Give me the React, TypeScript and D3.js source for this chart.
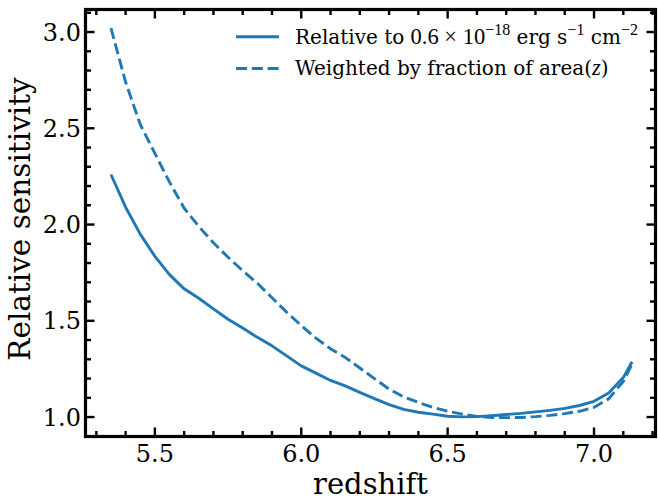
import React from "react";
import * as d3 from "d3";

const redshift = [5.35, 5.40, 5.45, 5.50, 5.55, 5.60, 5.65, 5.70, 5.75, 5.80, 5.85, 5.90, 5.95, 6.00, 6.05, 6.10, 6.15, 6.20, 6.25, 6.30, 6.35, 6.40, 6.45, 6.50, 6.55, 6.60, 6.65, 6.70, 6.75, 6.80, 6.85, 6.90, 6.95, 7.00, 7.05, 7.10, 7.13];
const relativeSens = [2.26, 2.09, 1.95, 1.835, 1.74, 1.666, 1.617, 1.562, 1.508, 1.462, 1.414, 1.37, 1.318, 1.266, 1.228, 1.19, 1.162, 1.128, 1.096, 1.065, 1.04, 1.025, 1.015, 1.004, 1.001, 1.002, 1.007, 1.013, 1.019, 1.027, 1.035, 1.045, 1.06, 1.082, 1.125, 1.205, 1.287];
const weightedSens = [3.02, 2.74, 2.52, 2.37, 2.22, 2.085, 1.99, 1.905, 1.83, 1.76, 1.695, 1.62, 1.545, 1.475, 1.41, 1.355, 1.31, 1.255, 1.2, 1.145, 1.105, 1.076, 1.05, 1.03, 1.015, 1.003, 0.998, 0.997, 0.998, 1.002, 1.009, 1.018, 1.03, 1.05, 1.095, 1.185, 1.275];
const xTicks = [5.5, 6.0, 6.5, 7.0];
const yTicks = [1.0, 1.5, 2.0, 2.5, 3.0];

const COLOR = "#1f77b4";
const SERIF = "'DejaVu Serif', serif";
const MATH = "'Liberation Serif', 'DejaVu Serif', serif";

export default function App() {
  const W = 658, H = 500;
  const L = 85.5, R = 655.5, T = 9.5, B = 436.5;
  const xDom: [number, number] = [5.263, 7.21];
  const yDom: [number, number] = [0.899, 3.117];
  const x = d3.scaleLinear().domain(xDom).range([L, R]);
  const y = d3.scaleLinear().domain(yDom).range([B, T]);

  const isMajor = (v: number) => Math.abs(v * 2 - Math.round(v * 2)) < 1e-6;
  const xMinor = d3.range(52, 73).map((v) => v / 10).filter((v) => v > xDom[0] && v < xDom[1] && !isMajor(v));
  const yMinor = d3.range(9, 32).map((v) => v / 10).filter((v) => v > yDom[0] && v < yDom[1] && !isMajor(v));

  const line = d3.line<number>().x((_, i) => x(redshift[i])).y((d) => y(d)).curve(d3.curveLinear);

  const majLen = 9, minLen = 5.5;
  const tickStroke = { stroke: "#000", strokeWidth: 2.4 };
  const LW = 2.9;
  const DASH = "11,4.8";

  return (
    <svg width={W} height={H} style={{ position: "absolute", left: 0, top: 0 }}>
      <rect x={0} y={0} width={W} height={H} fill="#fff" />
      <path d={line(relativeSens) || ""} fill="none" stroke={COLOR} strokeWidth={LW} strokeLinejoin="round" />
      <path d={line(weightedSens) || ""} fill="none" stroke={COLOR} strokeWidth={LW} strokeDasharray={DASH} />

      {xTicks.map((t) => (
        <g key={"xm" + t}>
          <line x1={x(t)} x2={x(t)} y1={B} y2={B - majLen} {...tickStroke} />
          <line x1={x(t)} x2={x(t)} y1={T} y2={T + majLen} {...tickStroke} />
          <text x={x(t)} y={462} textAnchor="middle" fontFamily={SERIF} fontSize={24}>{t.toFixed(1)}</text>
        </g>
      ))}
      {xMinor.map((t) => (
        <g key={"xn" + t}>
          <line x1={x(t)} x2={x(t)} y1={B} y2={B - minLen} {...tickStroke} />
          <line x1={x(t)} x2={x(t)} y1={T} y2={T + minLen} {...tickStroke} />
        </g>
      ))}
      {yTicks.map((t) => (
        <g key={"ym" + t}>
          <line x1={L} x2={L + majLen} y1={y(t)} y2={y(t)} {...tickStroke} />
          <line x1={R} x2={R - majLen} y1={y(t)} y2={y(t)} {...tickStroke} />
          <text x={81} y={y(t)} dy="0.36em" textAnchor="end" fontFamily={SERIF} fontSize={24}>{t.toFixed(1)}</text>
        </g>
      ))}
      {yMinor.map((t) => (
        <g key={"yn" + t}>
          <line x1={L} x2={L + minLen} y1={y(t)} y2={y(t)} {...tickStroke} />
          <line x1={R} x2={R - minLen} y1={y(t)} y2={y(t)} {...tickStroke} />
        </g>
      ))}

      <rect x={L} y={T} width={R - L} height={B - T} fill="none" stroke="#000" strokeWidth={3.2} />

      <text x={(L + R) / 2} y={494} textAnchor="middle" fontFamily={SERIF} fontSize={29}>redshift</text>
      <text transform={`translate(30,${(T + B) / 2 - 4}) rotate(-90)`} textAnchor="middle" fontFamily={SERIF} fontSize={29.5}>Relative sensitivity</text>

      <line x1={236} x2={279} y1={36.7} y2={36.7} stroke={COLOR} strokeWidth={LW} />
      <line x1={236} x2={279} y1={68.5} y2={68.5} stroke={COLOR} strokeWidth={LW} strokeDasharray={DASH} />
      <text x={295} y={43.5} fontFamily={SERIF} fontSize={20}>
        <tspan>Relative to </tspan>
        <tspan fontFamily={MATH} fontSize={22.5}>0.6 × 10</tspan>
        <tspan fontFamily={MATH} fontSize={16} dy={-9}>−18</tspan>
        <tspan dy={9}> erg s</tspan>
        <tspan fontFamily={MATH} fontSize={16} dy={-9}>−1</tspan>
        <tspan dy={9}> cm</tspan>
        <tspan fontFamily={MATH} fontSize={16} dy={-9}>−2</tspan>
      </text>
      <text x={295} y={75} fontFamily={SERIF} fontSize={20}>
        <tspan>Weighted by fraction of area(</tspan>
        <tspan fontFamily={MATH} fontStyle="italic" fontSize={22.5}>z</tspan>
        <tspan>)</tspan>
      </text>
    </svg>
  );
}
